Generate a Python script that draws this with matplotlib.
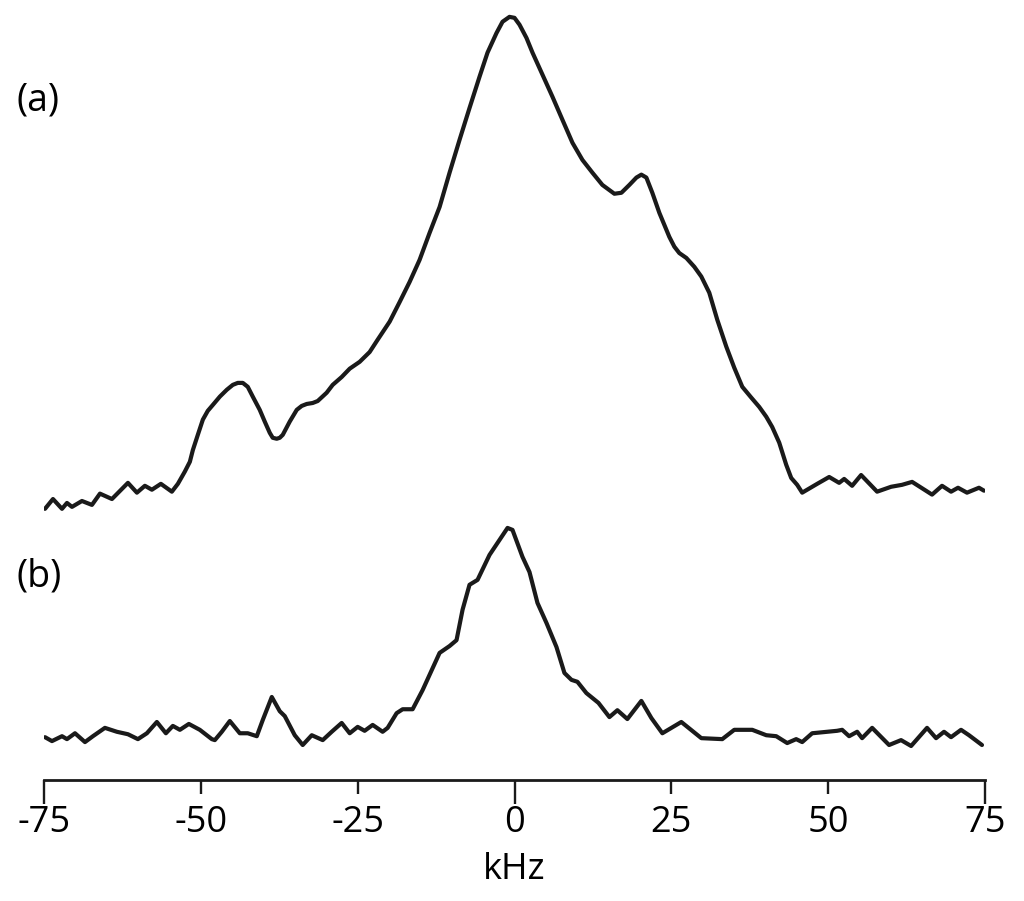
import numpy as np
import matplotlib
matplotlib.use("Agg")
import matplotlib.pyplot as plt
from matplotlib.ticker import FixedLocator, FixedFormatter

# spectrum (a): frequency (kHz) and intensity (arb. units)
freq_a = [-74.84, -73.57, -72.13, -71.34, -70.54, -68.95, -67.36, -66.08, -64.17, -61.62,
          -60.19, -58.92, -57.80, -56.37, -54.62, -53.66, -52.55, -51.75, -51.27, -50.48,
          -49.68, -48.89, -48.09, -46.97, -45.86, -44.90, -44.11, -43.31, -42.52, -41.72,
          -40.61, -39.81, -39.01, -38.54, -37.90, -37.42, -36.94, -35.83, -34.71, -33.92,
          -33.12, -32.17, -31.37, -29.94, -28.98, -27.55, -26.27, -24.68, -23.09, -21.82,
          -19.90, -18.31, -16.72, -15.13, -13.54, -11.94, -10.35, -8.76, -7.17, -5.57,
          -4.30, -2.87, -1.91, -0.80, 0.00, 0.80, 1.91, 2.87, 4.46, 6.05,
          7.64, 9.24, 10.83, 12.42, 14.01, 15.92, 17.04, 18.31, 19.43, 20.22,
          21.02, 21.97, 23.09, 24.68, 25.48, 26.27, 27.39, 28.66, 29.78, 31.05,
          32.32, 33.76, 35.03, 36.31, 37.74, 39.01, 40.13, 41.08, 42.20, 43.31,
          44.11, 45.06, 45.86, 48.25, 50.16, 51.75, 52.55, 53.82, 55.25, 57.80,
          60.03, 61.78, 63.38, 66.56, 68.15, 69.59, 70.70, 72.13, 74.04, 74.84]
int_a = [0.2, 2.2, 0.2, 1.4, 0.6, 1.8, 1.0, 3.3, 2.2, 5.5,
         3.5, 4.9, 4.1, 5.3, 3.7, 5.3, 7.8, 9.8, 12.2, 15.3,
         18.4, 20.2, 21.4, 23.1, 24.5, 25.5, 25.9, 25.9, 25.1, 23.1,
         20.4, 18.0, 15.7, 14.7, 14.5, 14.7, 15.3, 18.0, 20.4, 21.2,
         21.6, 21.8, 22.2, 23.9, 25.5, 27.1, 28.8, 30.2, 32.2, 34.7,
         38.4, 42.4, 46.5, 51.0, 56.5, 61.8, 68.8, 75.5, 82.0, 88.4,
         93.3, 97.3, 99.6, 100.6, 100.4, 99.0, 96.3, 93.3, 88.8, 84.3,
         79.6, 74.9, 71.4, 68.8, 66.3, 64.5, 64.7, 66.3, 67.8, 68.4,
         67.8, 64.7, 60.6, 55.7, 53.7, 52.4, 51.4, 49.6, 47.6, 44.3,
         38.8, 33.3, 29.0, 25.1, 22.9, 21.0, 19.0, 16.9, 13.7, 9.2,
         6.5, 5.1, 3.5, 5.3, 6.7, 5.5, 6.3, 4.9, 7.1, 3.7,
         4.7, 5.1, 5.7, 3.1, 4.9, 3.7, 4.5, 3.5, 4.5, 3.9]

# spectrum (b)
freq_b = [-74.84, -73.73, -72.13, -71.34, -70.06, -68.47, -67.20, -65.29, -63.38, -61.62,
          -60.03, -58.60, -57.01, -55.57, -54.46, -53.34, -51.91, -50.16, -48.25, -47.77,
          -46.66, -45.38, -43.79, -42.52, -41.08, -40.13, -38.69, -37.42, -36.62, -35.03,
          -33.76, -32.32, -30.57, -29.14, -27.55, -26.27, -25.00, -23.89, -22.61, -21.02,
          -20.22, -18.79, -17.83, -16.24, -14.65, -11.94, -10.35, -9.24, -8.28, -7.17,
          -5.89, -3.98, -1.11, -0.32, 1.27, 2.39, 3.66, 5.10, 6.69, 7.96,
          9.08, 10.03, 11.46, 13.38, 15.13, 16.40, 17.99, 20.22, 21.82, 23.57,
          26.59, 29.78, 33.12, 35.03, 37.90, 40.13, 41.72, 43.47, 44.90, 45.86,
          47.45, 51.43, 52.23, 53.34, 54.62, 55.41, 57.01, 59.71, 61.62, 63.22,
          65.76, 67.20, 68.47, 69.59, 71.18, 72.45, 74.52]
int_b = [1.6, 0.8, 1.8, 1.2, 2.4, 0.6, 1.8, 3.5, 2.7, 2.2,
         1.2, 2.4, 4.7, 2.4, 3.9, 3.1, 4.3, 3.1, 1.2, 1.0,
         2.7, 4.9, 2.4, 2.4, 1.8, 5.1, 9.8, 6.9, 5.9, 2.0,
         0.0, 2.0, 1.0, 2.7, 4.5, 2.4, 3.7, 2.9, 4.1, 2.7,
         3.5, 6.5, 7.3, 7.3, 11.2, 18.8, 20.2, 21.4, 27.6, 32.7,
         33.7, 38.8, 44.3, 43.9, 38.4, 35.3, 29.0, 24.9, 20.0, 14.7,
         13.3, 12.9, 10.6, 8.6, 5.7, 7.1, 5.3, 9.0, 5.5, 2.4,
         4.7, 1.4, 1.2, 3.1, 3.1, 2.0, 1.8, 0.4, 1.2, 0.6,
         2.4, 2.9, 3.1, 1.8, 2.7, 1.4, 3.5, 0.0, 1.0, -0.2,
         3.5, 1.4, 2.7, 1.6, 3.1, 2.0, 0.0]

labels = ["(a)", "(b)"]
major_ticks = [-75, 0, 75]
minor_ticks = [-50, -25, 25, 50]

offset_a = 48.0
line_color = "#1a1a1a"

plt.rcParams['font.family'] = ['Open Sans', 'DejaVu Sans']

fig = plt.figure(figsize=(10.24, 9.01), dpi=100)
ax = fig.add_axes([44 / 1024, 121 / 901, 941 / 1024, 770 / 901])

ax.plot(freq_a, np.array(int_a) + offset_a, color=line_color, lw=3.0,
        solid_joinstyle='round', solid_capstyle='round')
ax.plot(freq_b, int_b, color=line_color, lw=3.0,
        solid_joinstyle='round', solid_capstyle='round')

ax.set_xlim(-75, 75)
ax.set_ylim(-7.14, 150.0)

for s in ['top', 'left', 'right']:
    ax.spines[s].set_visible(False)
ax.spines['bottom'].set_linewidth(2.0)
ax.spines['bottom'].set_color(line_color)

# long ticks at -75, 0, 75; shorter ones in between, all labelled
ax.xaxis.set_major_locator(FixedLocator(major_ticks))
ax.xaxis.set_major_formatter(FixedFormatter([str(t) for t in major_ticks]))
ax.xaxis.set_minor_locator(FixedLocator(minor_ticks))
ax.xaxis.set_minor_formatter(FixedFormatter([str(t) for t in minor_ticks]))
ax.tick_params(axis='x', which='major', direction='out', length=17, width=1.7,
               color=line_color, labelsize=26, pad=1)
ax.tick_params(axis='x', which='minor', direction='out', length=10, width=1.7,
               color=line_color, labelsize=26, pad=8)
ax.set_yticks([])
ax.set_xlabel("kHz", fontsize=26, labelpad=8)

fig.text(16 / 1024, 1 - 100 / 901, labels[0], fontsize=27, va='center', ha='left')
fig.text(16 / 1024, 1 - 576 / 901, labels[1], fontsize=27, va='center', ha='left')

fig.savefig("out.png", dpi=100, facecolor='white')
